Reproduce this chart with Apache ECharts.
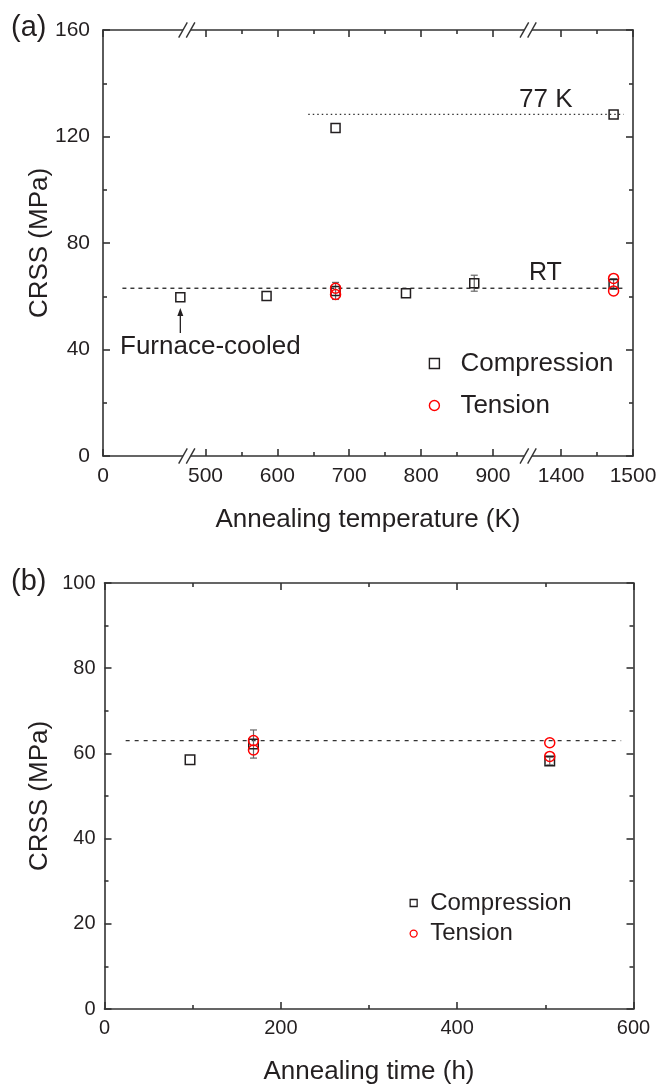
<!DOCTYPE html>
<html><head><meta charset="utf-8">
<script src="https://cdn.jsdelivr.net/npm/echarts@6.0.0/dist/echarts.min.js"></script>
<style>html,body{margin:0;padding:0;background:#fff}#c{width:657px;height:1084px}</style>
</head><body><div id="c"></div>
<script>
// ---------- Panel (a): CRSS vs annealing temperature ----------
const tempTicksMajor = [0, 500, 600, 700, 800, 900, 1400, 1500];
const tempTicksMinor = [550, 650, 750, 850, 1450];
const tempBreaks = [474, 949];
const compTempRT = [465, 585, 681, 779, 874, 1473];
const compCRSSRT = [59.6, 60.1, 62.0, 61.1, 64.9, 64.6];
const compErrRT  = [0, 0, 3.2, 0, 3.0, 2.0];
const compTemp77 = [681, 1473];
const compCRSS77 = [123.2, 128.3];
const tensTemp = [681, 681, 1473, 1473];
const tensCRSS = [63.0, 60.7, 66.7, 62.0];
const rtLineTemp = [27, 1487];
const rtLineCRSS = [63.0, 63.0];
const k77LineTemp = [643, 1487];
const k77LineCRSS = [128.3, 128.3];
const crssTicksA = [0, 40, 80, 120, 160];
// ---------- Panel (b): CRSS vs annealing time ----------
const compTime = [97, 169, 505];
const compCRSSb = [58.5, 62.2, 58.2];
const compErrB = [0, 3.3, 0.9];
const tensTime = [169, 169, 505, 505];
const tensCRSSb = [63.0, 60.8, 62.5, 59.3];
const refTime = [24, 586];
const refCRSSb = [63, 63];
const timeTicks = [0, 200, 400, 600];
const crssTicksB = [0, 20, 40, 60, 80, 100];

// broken temperature axis: real K -> continuous axis coordinate
function toV(r) { if (r < 300) return r; if (r < 1200) return r - 357.4; return r - 762.5; }
const vMax = toV(1500);

const FONT = 'Liberation Sans, Arial, Helvetica, sans-serif';
const INK = '#231f20';
const AX = { color: '#333', width: 1.6 };
const chart = echarts.init(document.getElementById('c'), null, { renderer: 'canvas' });

function xTempAxis(pos, ticks, len, labels, line) {
  return {
    type: 'value', gridIndex: 0, position: pos, min: 0, max: vMax,
    axisLine: { show: line, onZero: false, lineStyle: AX },
    axisTick: { show: true, inside: true, length: len, lineStyle: AX, customValues: ticks.map(toV) },
    axisLabel: labels ? {
      show: true, customValues: tempTicksMajor.map(toV), margin: 10,
      fontSize: 21, fontFamily: FONT, color: INK, showMinLabel: true, showMaxLabel: true,
      formatter: v => { const r = tempTicksMajor.find(t => Math.abs(toV(t) - v) < 1e-6); return r === undefined ? '' : String(r); }
    } : { show: false },
    splitLine: { show: false },
    name: labels ? 'Annealing temperature (K)' : '', nameLocation: 'middle', nameGap: 51, nameMoveOverlap: false,
    nameTextStyle: { fontSize: 26, fontFamily: FONT, color: INK }
  };
}
function yAxis(grid, pos, max, interval, labels, margin, fs, gap) {
  return {
    type: 'value', gridIndex: grid, position: pos, min: 0, max: max, interval: interval,
    axisLine: { show: true, onZero: false, lineStyle: AX },
    axisTick: { show: true, inside: true, length: 7, lineStyle: AX },
    minorTick: { show: true, splitNumber: 2, length: 4, lineStyle: AX },
    axisLabel: labels ? { show: true, margin: margin, fontSize: fs, fontFamily: FONT, color: INK } : { show: false },
    splitLine: { show: false }, minorSplitLine: { show: false },
    name: labels ? 'CRSS (MPa)' : '', nameLocation: 'middle', nameGap: gap, nameMoveOverlap: false,
    nameTextStyle: { fontSize: 26, fontFamily: FONT, color: INK }
  };
}
function xTimeAxis(pos, labels) {
  return {
    type: 'value', gridIndex: 1, position: pos, min: 0, max: 600, interval: 200,
    axisLine: { show: true, onZero: false, lineStyle: AX },
    axisTick: { show: true, inside: true, length: 7, lineStyle: AX },
    minorTick: { show: true, splitNumber: 2, length: 4, lineStyle: AX },
    axisLabel: labels ? { show: true, margin: 9, fontSize: 20, fontFamily: FONT, color: INK, showMaxLabel: true } : { show: false },
    splitLine: { show: false }, minorSplitLine: { show: false },
    name: labels ? 'Annealing time (h)' : '', nameLocation: 'middle', nameGap: 50, nameMoveOverlap: false,
    nameTextStyle: { fontSize: 26, fontFamily: FONT, color: INK }
  };
}
function errSeries(xi, yi, xs, ys, es) {
  return {
    type: 'custom', xAxisIndex: xi, yAxisIndex: yi, z: 3, silent: true,
    data: xs.map((x, i) => [x, ys[i] - es[i], ys[i] + es[i]]).filter((d, i) => es[i] > 0),
    renderItem: (p, api) => {
      const a = api.coord([api.value(0), api.value(2)]);
      const b = api.coord([api.value(0), api.value(1)]);
      const st = { stroke: '#666', lineWidth: 1.2 };
      return { type: 'group', children: [
        { type: 'line', shape: { x1: a[0], y1: a[1], x2: b[0], y2: b[1] }, style: st },
        { type: 'line', shape: { x1: a[0] - 3.5, y1: a[1], x2: a[0] + 3.5, y2: a[1] }, style: st },
        { type: 'line', shape: { x1: b[0] - 3.5, y1: b[1], x2: b[0] + 3.5, y2: b[1] }, style: st }
      ] };
    }
  };
}
function scatter(name, xi, yi, pts, sym, size, color, z) {
  return {
    name: name, type: 'scatter', xAxisIndex: xi, yAxisIndex: yi, z: z, symbol: sym, symbolSize: size,
    data: pts, itemStyle: { color: 'rgba(0,0,0,0)', borderColor: color, borderWidth: 1.5, opacity: 1 },
    emphasis: { disabled: true }
  };
}
function refLine(xi, yi, xs, ys, dash) {
  return {
    type: 'line', xAxisIndex: xi, yAxisIndex: yi, symbol: 'none', silent: true, z: 2,
    data: xs.map((x, i) => [x, ys[i]]), lineStyle: { color: '#333', width: 1.4, type: dash }
  };
}
const legendText = (fs, pad) => ({ fontSize: fs, fontFamily: FONT, color: INK, padding: [0, 0, 0, pad] });

const option = {
  animation: false,
  backgroundColor: '#fff',
  grid: [
    { left: 103, top: 30, width: 530, height: 426, outerBoundsMode: 'none', containLabel: false },
    { left: 104.5, top: 583, width: 529, height: 426, outerBoundsMode: 'none', containLabel: false }
  ],
  xAxis: [
    xTempAxis('bottom', tempTicksMajor, 7, true, true),
    xTempAxis('bottom', tempTicksMinor, 4, false, false),
    xTempAxis('top', tempTicksMajor, 7, false, true),
    xTempAxis('top', tempTicksMinor, 4, false, false),
    xTimeAxis('bottom', true),
    xTimeAxis('top', false)
  ],
  yAxis: [
    yAxis(0, 'left', 160, 40, true, 13, 21, 50),
    yAxis(0, 'right', 160, 40, false, 0, 21, 0),
    yAxis(1, 'left', 100, 20, true, 9, 20, 51.5),
    yAxis(1, 'right', 100, 20, false, 0, 20, 0)
  ],
  legend: [
    { orient: 'vertical', left: 423.7, top: 345.5, itemWidth: 10, itemHeight: 10, itemGap: 16,
      selectedMode: false, textStyle: legendText(26, 16),
      data: [
        { name: 'Compression', icon: 'rect', itemStyle: { color: 'rgba(0,0,0,0)', borderColor: INK, borderWidth: 1.4 } },
        { name: 'Tension', icon: 'circle', itemStyle: { color: 'rgba(0,0,0,0)', borderColor: '#ff0000', borderWidth: 1.4 } }
      ] },
    { orient: 'vertical', left: 404.5, top: 886, itemWidth: 7, itemHeight: 7, itemGap: 6.6,
      selectedMode: false, textStyle: legendText(24, 8),
      data: [
        { name: 'Compression', icon: 'rect', itemStyle: { color: 'rgba(0,0,0,0)', borderColor: INK, borderWidth: 1.3 } },
        { name: 'Tension', icon: 'circle', itemStyle: { color: 'rgba(0,0,0,0)', borderColor: '#ff0000', borderWidth: 1.3 } }
      ] }
  ],
  series: [
    refLine(0, 0, rtLineTemp.map(toV), rtLineCRSS, [4, 4]),
    refLine(0, 0, k77LineTemp.map(toV), k77LineCRSS, [1.5, 3]),
    errSeries(0, 0, compTempRT.map(toV), compCRSSRT, compErrRT),
    scatter('Compression', 0, 0,
      compTempRT.map((t, i) => [toV(t), compCRSSRT[i]]).concat(compTemp77.map((t, i) => [toV(t), compCRSS77[i]])),
      'rect', 9, INK, 4),
    scatter('Tension', 0, 0, tensTemp.map((t, i) => [toV(t), tensCRSS[i]]), 'circle', 10, '#ff0000', 5),
    refLine(4, 2, refTime, refCRSSb, [4, 5]),
    errSeries(4, 2, compTime, compCRSSb, compErrB),
    scatter('Compression', 4, 2, compTime.map((t, i) => [t, compCRSSb[i]]), 'rect', 9.5, INK, 4),
    scatter('Tension', 4, 2, tensTime.map((t, i) => [t, tensCRSSb[i]]), 'circle', 10, '#ff0000', 5)
  ]
};
chart.setOption(option);

// break marks and annotations
const yTop = chart.convertToPixel({ yAxisIndex: 0 }, 160);
const yBot = chart.convertToPixel({ yAxisIndex: 0 }, 0);
const g = [];
tempBreaks.forEach(b => {
  const x = chart.convertToPixel({ xAxisIndex: 0 }, toV(b));
  [yTop, yBot].forEach(y => {
    const h = 7.7, s = 4.3, d = 3.8;
    g.push({ type: 'polygon', z: 100, shape: { points: [[x - d - 1.2, y + 2.2], [x - d + 1.2, y - 2.2], [x + d + 1.2, y - 2.2], [x + d - 1.2, y + 2.2]] }, style: { fill: '#fff' } });
    g.push({ type: 'line', z: 101, shape: { x1: x - d - s, y1: y + h, x2: x - d + s, y2: y - h }, style: { stroke: '#333', lineWidth: 1.4 } });
    g.push({ type: 'line', z: 101, shape: { x1: x + d - s, y1: y + h, x2: x + d + s, y2: y - h }, style: { stroke: '#333', lineWidth: 1.4 } });
  });
});
const ax = chart.convertToPixel({ xAxisIndex: 0 }, toV(compTempRT[0]));
g.push({ type: 'line', z: 50, shape: { x1: ax, y1: 333, x2: ax, y2: 313 }, style: { stroke: INK, lineWidth: 1.3 } });
g.push({ type: 'polygon', z: 50, shape: { points: [[ax, 308], [ax - 3, 316], [ax + 3, 316]] }, style: { fill: INK } });
const txt = (t, x, y, fs) => ({ type: 'text', z: 50, x: x, y: y, style: { text: t, fontSize: fs, fontFamily: FONT, fill: INK, verticalAlign: 'middle', align: 'left' } });
g.push(txt('(a)', 11, 28, 29));
g.push(txt('(b)', 11, 581.5, 29));
g.push(txt('77 K', 519, 100, 26));
g.push(txt('RT', 529, 273, 25));
g.push(txt('Furnace-cooled', 120, 346.5, 26));
chart.setOption({ graphic: g });
</script></body></html>
